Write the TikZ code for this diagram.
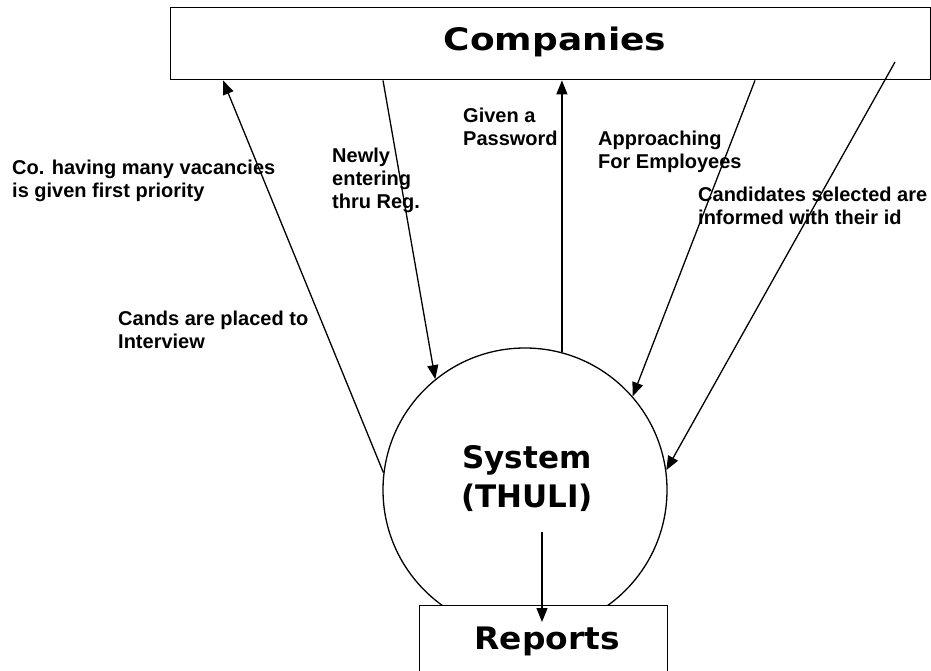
\documentclass[tikz,border=0pt]{standalone}
\usepackage{fontspec}
\setmainfont{Liberation Sans}
\newfontfamily\dvsfont{DejaVu Sans}
\usetikzlibrary{arrows.meta}
\begin{document}
\begin{tikzpicture}[x=1pt,y=-1pt,
  boxstyle/.style={draw, line width=1.4pt, inner sep=0pt, fill=white},
  bigtext/.style={font=\dvsfont\bfseries\fontsize{31}{39}\selectfont, inner sep=0pt, align=center},
  lbl/.style={anchor=north west, inner sep=0pt, align=left, font=\bfseries\fontsize{20}{23}\selectfont},
  flow/.style={line width=1.3pt, -{Triangle[length=14pt,width=11pt]}}]
\useasboundingbox (0,0) rectangle (931,671);
% Companies
\node[boxstyle, minimum width=760pt, minimum height=72pt, anchor=north west] (comp) at (170,7) {};
\node[bigtext] (compt) at (555,42) {\scalebox{1.16}[1]{Companies}};
% System
\node[draw, circle, line width=1.3pt, minimum size=284pt, inner sep=0pt] (sys) at (525,490) {};
\node[bigtext] (syst) at (527,479) {System\\(THULI)};
% Reports
\node[boxstyle, minimum width=248pt, minimum height=72pt, anchor=north west] (rep) at (419,605) {};
\node[bigtext] (rept) at (547,641) {\scalebox{1.06}[1]{Reports}};
% free ends
\coordinate (c5) at (895,62);
\coordinate (r0) at (542,532);
\coordinate (r1) at (542,622);
% connectors
\draw[flow] (sys.173) -- (comp.south -| 223,0);
\draw[flow] (comp.south -| 383,0) -- (sys.129);
\draw[flow] (sys.75) -- (sys.75 |- comp.south);
\draw[flow] (comp.south -| 755,0) -- (sys.41);
\draw[flow] (c5) -- (sys.8);
\draw[flow] (r0) -- (r1);
% labels
\node[lbl] (l1) at (12,160) {Co. having many vacancies\\is given first priority};
\node[lbl] (l2) at (332,148) {Newly\\entering\\thru Reg.};
\node[lbl] (l3) at (118,311) {Cands are placed to\\Interview};
\node[lbl] (l4) at (463,108) {Given a\\Password};
\node[lbl] (l5) at (598,131) {Approaching\\For Employees};
\node[lbl] (l6) at (698,187) {Candidates selected are\\informed with their id};
\end{tikzpicture}
\end{document}
